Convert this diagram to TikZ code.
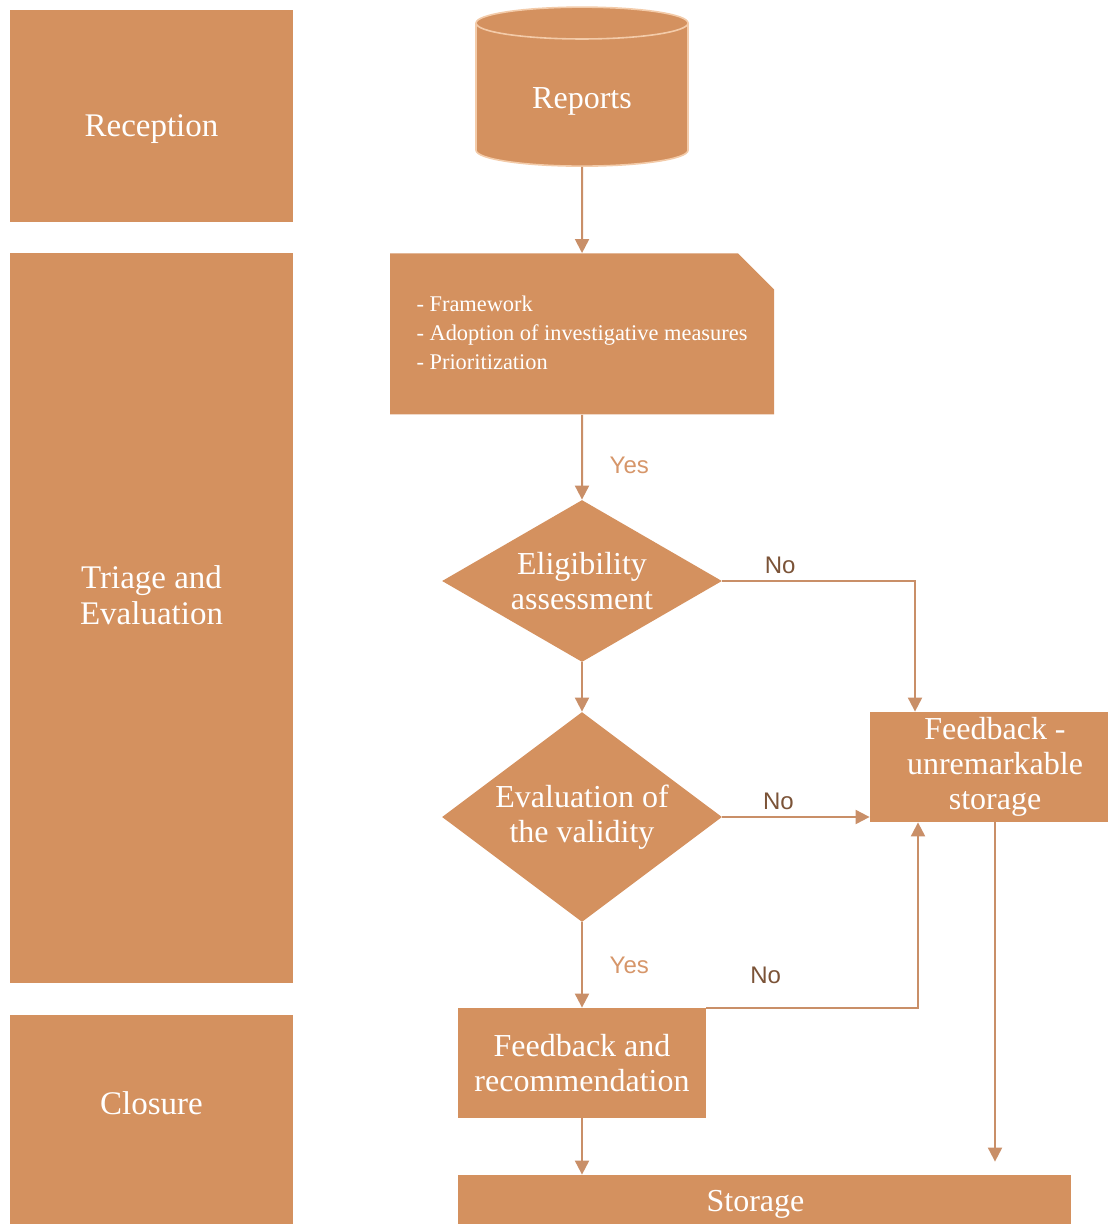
\documentclass[tikz,border=0pt]{standalone}
\usepackage{fontspec}
\setmainfont{Liberation Serif}
\newfontfamily\labelfont{Liberation Sans}
\usetikzlibrary{shapes.geometric,shapes.misc,arrows.meta}
\definecolor{boxfill}{HTML}{D4915F}
\definecolor{linecol}{HTML}{C98F68}
\definecolor{yescol}{HTML}{D6966A}
\definecolor{nocol}{HTML}{7B5337}
\definecolor{rimcol}{HTML}{F3CBA9}

\begin{document}
\begin{tikzpicture}[x=0.5pt,y=-0.5pt,
  lane/.style={fill=boxfill,minimum width=141.5pt},
  lanetext/.style={text=white,align=center,font=\fontsize{16.5}{18}\selectfont},
  proc/.style={fill=boxfill,text=white,align=center,inner sep=0pt,font=\fontsize{16}{17.5}\selectfont},
  decision/.style={proc,diamond,minimum width=140pt},
  flow/.style={draw=linecol,line width=1pt,-{Triangle[width=7pt,length=7pt]}},
  yes/.style={text=yescol,font=\labelfont\fontsize{12}{14}\selectfont},
  no/.style={text=nocol,font=\labelfont\fontsize{12}{14}\selectfont}]
  \useasboundingbox (0,0) rectangle (1107,1224);

  % lanes
  \node[lane,minimum height=106pt,label={[lanetext,yshift=-6.5pt]center:Reception}] (reception) at (151.5,116) {};
  \node[lane,minimum height=365pt,label={[lanetext,yshift=11.5pt]center:Triage and\\Evaluation}] (triage) at (151.5,618) {};
  \node[lane,minimum height=109.5pt,label={[lanetext,yshift=10.5pt]center:Closure}] (closure) at (151.5,1124.5) {};

  % flow
  \node[proc,cylinder,shape border rotate=90,aspect=0.32,draw=rimcol,line width=0.8pt,
    minimum width=106pt,minimum height=79.5pt] (reports) at (582,95) {\raisebox{-3pt}[0.7em][0.2em]{Reports}};
  \node[proc,chamfered rectangle,chamfered rectangle corners=north east,
    chamfered rectangle xsep=9pt,chamfered rectangle ysep=9pt,
    minimum width=192pt,minimum height=80.5pt,align=left,
    font=\fontsize{11.2}{14.5}\selectfont] (framework) at (582,334)
    {- Framework\\- Adoption of investigative measures\\- Prioritization\\[-13pt]};
  \node[decision,minimum height=81pt,aspect=1.73] (eligibility) at (582,581) {Eligibility\\assessment};
  \node[decision,minimum height=105pt,aspect=1.33] (validity) at (582,817) {Evaluation of\\the validity};
  \node[proc,minimum width=125pt,minimum height=55pt] (unremarkable) at (995,767)
    {Feedback -\\unremarkable\\storage};
  \node[proc,minimum width=124pt,minimum height=55pt] (recommend) at (582,1063) {Feedback and\\recommendation};
  \node[proc,minimum width=306.5pt,minimum height=29.5pt] (storage) at (764.5,1204.5) {\hspace*{-9pt}Storage};

  \draw[flow] (reports) -- (framework);
  \draw[flow] (framework) -- node[yes,pos=0.6,right=10pt] {Yes} (eligibility);
  \draw[flow] (eligibility.east) -| node[no,pos=0.15,above] {No} ([xshift=-40pt]unremarkable.north);
  \draw[flow] (eligibility) -- (validity);
  \draw[flow] (validity.east) -- node[no,pos=0.38,above] {No} (validity.east -| unremarkable.west);
  \draw[flow] (validity) -- node[yes,pos=0.5,right=10pt] {Yes} (recommend);
  \draw[flow] (recommend.north east) -| node[no,pos=0.14,above=8pt] {No} ([xshift=-38.5pt]unremarkable.south);
  \draw[flow,shorten >=6.5pt] (unremarkable.south) -- (unremarkable.south |- storage.north);
  \draw[flow] (recommend) -- (recommend |- storage.north);
\end{tikzpicture}
\end{document}
